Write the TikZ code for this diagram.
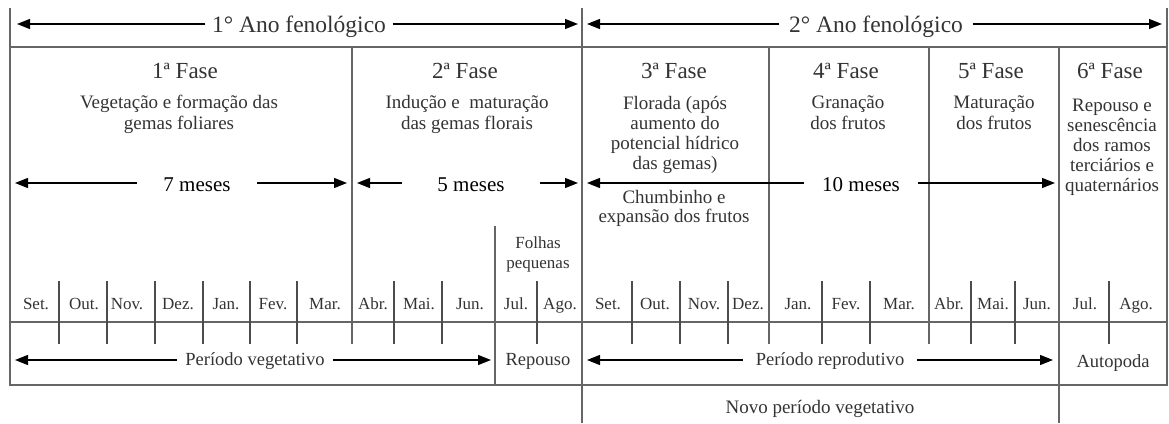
\documentclass[tikz,border=0pt]{standalone}
\usepackage{fontspec}
\setmainfont{Liberation Serif}
\usetikzlibrary{arrows.meta}
\begin{document}
\begin{tikzpicture}[x=1pt,y=-1pt,
  frame/.style={draw=black!60,line width=1.5pt},
  tickline/.style={draw=black!70,line width=1.2pt},
  arr/.style={draw=black,line width=1.3pt,-{Triangle[length=13pt,width=10pt]}},
  txt/.style={inner sep=0pt,text=black!80,font=\fontsize{19}{21}\selectfont,align=center},
  desc/.style={txt,anchor=north},
  hdr/.style={inner sep=0pt,text=black!80,font=\fontsize{23.5}{26}\selectfont,anchor=base},
  fase/.style={inner sep=0pt,text=black!80,font=\fontsize{23}{25}\selectfont,anchor=base},
  mon/.style={inner sep=0pt,text=black!80,font=\fontsize{17}{19}\selectfont,anchor=base},
  per/.style={inner sep=0pt,text=black!80,font=\fontsize{18.5}{21}\selectfont,anchor=base},
  meses/.style={inner sep=0pt,text=black,font=\fontsize{21}{24}\selectfont,anchor=base}
]
\useasboundingbox (0,0) rectangle (1169,423);

% frame and grid
\draw[frame] (10,8) -- (10,385) -- (1167,385) -- (1167,8);
\draw[frame] (10,47) -- (1167,47);
\draw[frame] (10,322) -- (1167,322);
\draw[frame] (582,8) -- (582,423);
\draw[frame] (1059,47) -- (1059,423);
\draw[frame] (495,226) -- (495,385);
\foreach \x in {352,769,929} \draw[frame] (\x,47) -- (\x,344);
\foreach \x in {59,107,155,203,250,297,394,442,537,632,680,728,822,870,971,1015,1109}
  \draw[tickline] (\x,281) -- (\x,344);

% header
\node[hdr,inner xsep=6.5pt] (h1) at (299,32) {1° Ano fenológico};
\coordinate (h1l) at (17,24); \coordinate (h1r) at (578,24);
\draw[arr] (h1.west |- h1l) -- (h1l);
\draw[arr] (h1.east |- h1r) -- (h1r);
\node[hdr,inner xsep=9.5pt] (h2) at (876,32) {2° Ano fenológico};
\coordinate (h2l) at (587,24); \coordinate (h2r) at (1162,24);
\draw[arr] (h2.west |- h2l) -- (h2l);
\draw[arr] (h2.east |- h2r) -- (h2r);

% phases
\node[fase] (f1) at (185,78) {1ª Fase};
\node[fase] (f2) at (465,78) {2ª Fase};
\node[fase] (f3) at (674,78) {3ª Fase};
\node[fase] (f4) at (846,78) {4ª Fase};
\node[fase] (f5) at (991,78) {5ª Fase};
\node[fase] (f6) at (1110,78) {6ª Fase};

\node[desc] (d1) at (179,95) {Vegetação e formação das\\gemas foliares};
\node[desc] (d2) at (467,95) {Indução e\ \ maturação\\das gemas florais};
\node[desc,font=\fontsize{19}{20}\selectfont] (d3) at (675,96) {Florada (após\\aumento do\\potencial hídrico\\das gemas)};
\node[desc,font=\fontsize{19}{19.5}\selectfont] (d3b) at (674,190) {Chumbinho e\\expansão dos frutos};
\node[desc] (d4) at (848,95) {Granação\\dos frutos};
\node[desc] (d5) at (994,95) {Maturação\\dos frutos};
\node[desc,font=\fontsize{19}{20}\selectfont] (d6) at (1112,99) {Repouso e\\senescência\\dos ramos\\terciários e\\quaternários};

% durations
\node[meses,inner xsep=26.5pt] (m7) at (197,191) {7 meses};
\coordinate (m7l) at (15,183); \coordinate (m7r) at (347,183);
\draw[arr] (m7.west |- m7l) -- (m7l);
\draw[arr] (m7.east |- m7r) -- (m7r);
\node[meses,inner xsep=35pt] (m5) at (471,191) {5 meses};
\coordinate (m5l) at (357,183); \coordinate (m5r) at (578,183);
\draw[arr] (m5.west |- m5l) -- (m5l);
\draw[arr] (m5.east |- m5r) -- (m5r);
\node[meses,inner xsep=18.5pt] (m10) at (861,191) {10 meses};
\coordinate (m10l) at (587,183); \coordinate (m10r) at (1055,183);
\draw[arr] (m10.west |- m10l) -- (m10l);
\draw[arr] (m10.east |- m10r) -- (m10r);

% folhas pequenas
\node[desc,font=\fontsize{17}{20}\selectfont] (fp) at (538,237) {Folhas\\pequenas};

% months
\foreach \x/\m [count=\i] in {36/Set.,84/Out.,127/Nov.,178/Dez.,226/Jan.,273/Fev.,325/Mar.,373/Abr.,419/Mai.,470/Jun.,516/Jul.,560/Ago.,
  608/Set.,655/Out.,704/Nov.,748/Dez.,798/Jan.,846/Fev.,899/Mar.,949/Abr.,993/Mai.,1037/Jun.,1085/Jul.,1136/Ago.}
  \node[mon] (mo\i) at (\x,309) {\m};

% periods
\node[per,inner xsep=8.5pt] (pv) at (255,365) {Período vegetativo};
\coordinate (pvl) at (15,360); \coordinate (pvr) at (491,360);
\draw[arr] (pv.west |- pvl) -- (pvl);
\draw[arr] (pv.east |- pvr) -- (pvr);
\node[per] (rep) at (538,365) {Repouso};
\node[per,inner xsep=13pt] (pr) at (830,365) {Período reprodutivo};
\coordinate (prl) at (587,360); \coordinate (prr) at (1053,360);
\draw[arr] (pr.west |- prl) -- (prl);
\draw[arr] (pr.east |- prr) -- (prr);
\node[per] (auto) at (1113,367) {Autopoda};

\node[per,font=\fontsize{19}{21}\selectfont] (npv) at (820,413) {Novo período vegetativo};
\end{tikzpicture}
\end{document}
